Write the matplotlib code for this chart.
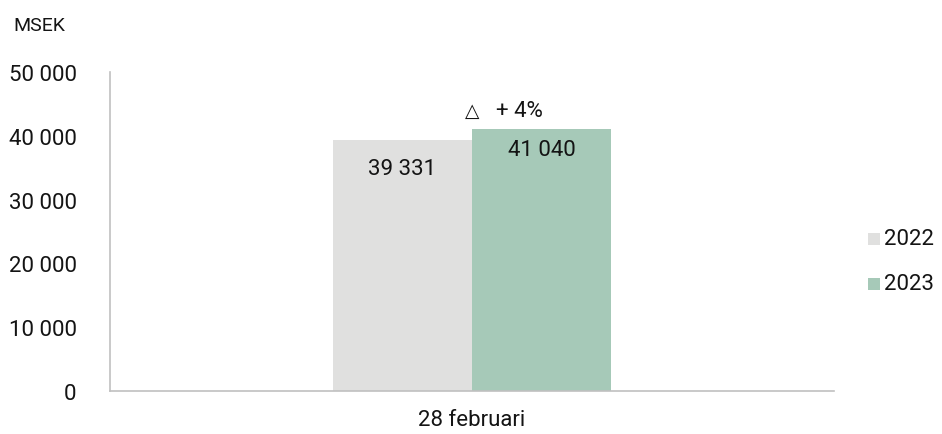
import matplotlib
matplotlib.use("Agg")
import matplotlib.pyplot as plt
from matplotlib.patches import Rectangle

plt.rcParams['font.family'] = ['Roboto', 'DejaVu Sans']

categories = ["28 februari"]
series_names = ["2022", "2023"]
values_2022 = [39331]
values_2023 = [41040]
value_labels_2022 = ["39 331"]
value_labels_2023 = ["41 040"]
change_symbol = "△"
change_label = "+ 4%"
yticks = [0, 10000, 20000, 30000, 40000, 50000]
ytick_labels = ["0", "10 000", "20 000", "30 000", "40 000", "50 000"]

colors = ["#e0e0df", "#a6c9b8"]
tc = '#141414'
fs = 16

fig = plt.figure(figsize=(9.42, 4.35), dpi=100)
ax = fig.add_axes([110/942, 1-392/435, (834-110)/942, (392-73)/435])

w = 0.192
x = list(range(len(categories)))
ax.bar([i - w/2 for i in x], values_2022, width=w, color=colors[0], label=series_names[0])
ax.bar([i + w/2 for i in x], values_2023, width=w, color=colors[1], label=series_names[1])

for i in x:
    ax.text(i - w/2, values_2022[i] - 2800, value_labels_2022[i], ha='center', va='top', fontsize=fs, color=tc)
    ax.text(i + w/2, values_2023[i] - 1500, value_labels_2023[i], ha='center', va='top', fontsize=fs, color=tc)
    ax.text(i + 0.0, values_2023[i] + 1500, change_symbol, ha='center', va='bottom', fontsize=13.5,
            color=tc, family=['DejaVu Sans'])
    ax.text(i + 0.066, values_2023[i] + 1350, change_label, ha='center', va='bottom', fontsize=fs, color=tc)

ax.set_xlim(-0.5, 0.5)
ax.set_ylim(0, 50000)
ax.set_yticks(yticks)
ax.set_yticklabels(ytick_labels, fontsize=fs, color=tc)
ax.set_xticks(x)
ax.set_xticklabels(categories, fontsize=fs, color=tc)
ax.tick_params(axis='both', length=0)
ax.tick_params(axis='y', pad=24)
ax.tick_params(axis='x', pad=13)
for s in ['top', 'right']:
    ax.spines[s].set_visible(False)
for s in ['left', 'bottom']:
    ax.spines[s].set_color('#c0c0c0')
    ax.spines[s].set_linewidth(1.2)

fig.text(13/942, 1-26/435, "MSEK", fontsize=14, color=tc, va='center', ha='left')

# legend
leg_y = [240, 285]
for name, c, yy in zip(series_names, colors, leg_y):
    fig.patches.append(Rectangle((868/942, 1-(yy+6)/435), 12/942, 12/435, transform=fig.transFigure,
                                 facecolor=c, edgecolor='none'))
    fig.text(884/942, 1-yy/435, name, fontsize=fs, color=tc, va='center', ha='left')

fig.savefig("out.png", dpi=100)
